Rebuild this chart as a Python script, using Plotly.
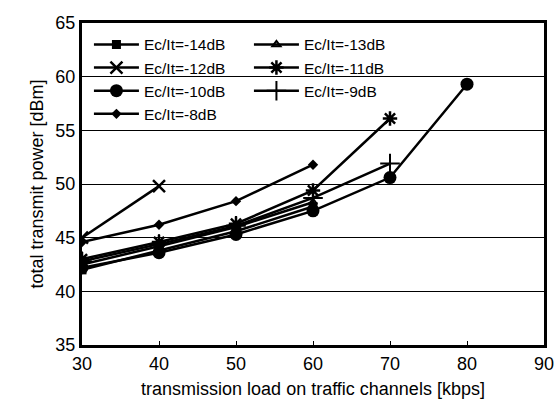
import plotly.graph_objects as go

names = ["Ec/It=-14dB", "Ec/It=-13dB", "Ec/It=-12dB", "Ec/It=-11dB",
         "Ec/It=-10dB", "Ec/It=-9dB", "Ec/It=-8dB"]
x_m14 = [30, 40, 50, 60]
y_m14 = [42.0, 43.8, 45.6, 47.9]
x_m13 = [30, 40, 50, 60]
y_m13 = [42.5, 44.2, 46.0, 48.3]
x_m12 = [30, 40]
y_m12 = [45.0, 49.8]
x_m11 = [30, 40, 50, 60, 70]
y_m11 = [43.0, 44.6, 46.3, 49.4, 56.1]
x_m10 = [30, 40, 50, 60, 70, 80]
y_m10 = [42.2, 43.6, 45.3, 47.5, 50.6, 59.3]
x_m9 = [30, 40, 50, 60, 70]
y_m9 = [42.8, 44.4, 46.1, 48.7, 51.9]
x_m8 = [30, 40, 50, 60]
y_m8 = [44.6, 46.2, 48.4, 51.8]

series = [
    (x_m14, y_m14, dict(symbol="square", size=9)),
    (x_m13, y_m13, dict(symbol="triangle-up-open", size=7, line=dict(width=2, color="black"))),
    (x_m12, y_m12, dict(symbol="x-thin", size=12, line=dict(width=2.5, color="black"))),
    (x_m11, y_m11, dict(symbol="asterisk", size=12, line=dict(width=2.5, color="black"))),
    (x_m10, y_m10, dict(symbol="circle", size=13)),
    (x_m9, y_m9, dict(symbol="cross-thin", size=14, line=dict(width=2, color="black"))),
    (x_m8, y_m8, dict(symbol="diamond", size=8)),
]

fig = go.Figure()
for name, (xs, ys, mk) in zip(names, series):
    fig.add_trace(go.Scatter(x=xs, y=ys, name=name, mode="lines+markers",
                             line=dict(color="black", width=2.5),
                             marker=dict(color="black", **mk)))

fig.update_layout(
    width=558, height=409,
    margin=dict(l=82, r=14, t=23, b=64),
    paper_bgcolor="white", plot_bgcolor="white",
    font=dict(family="Liberation Sans, Arial, sans-serif", color="black", size=18),
    showlegend=True,
    legend=dict(orientation="h", x=0.015, y=0.985, xanchor="left", yanchor="top",
                entrywidth=100, entrywidthmode="pixels", tracegroupgap=0,
                font=dict(size=15.5), bgcolor="rgba(255,255,255,0)", itemwidth=45),
    xaxis=dict(range=[30, 90], tickvals=[30, 40, 50, 60, 70, 80, 90],
               showgrid=False, zeroline=False, showline=True, linecolor="black",
               linewidth=3, mirror=True, ticks="inside", ticklen=4, tickcolor="black",
               automargin=False,
               title=dict(text="transmission load on traffic channels [kbps]",
                          font=dict(size=18), standoff=10),
               tickfont=dict(size=18)),
    yaxis=dict(range=[35, 65], tickvals=[35, 40, 45, 50, 55, 60, 65],
               showgrid=True, gridcolor="black", gridwidth=1, zeroline=False,
               showline=True, linecolor="black", linewidth=3, mirror=True,
               ticks="", automargin=False,
               title=dict(text="total transmit power [dBm]",
                          font=dict(size=18), standoff=8),
               tickfont=dict(size=18)),
)

fig.write_html("out.html", config={"displayModeBar": False},
               post_script="document.body.style.margin='0';")
